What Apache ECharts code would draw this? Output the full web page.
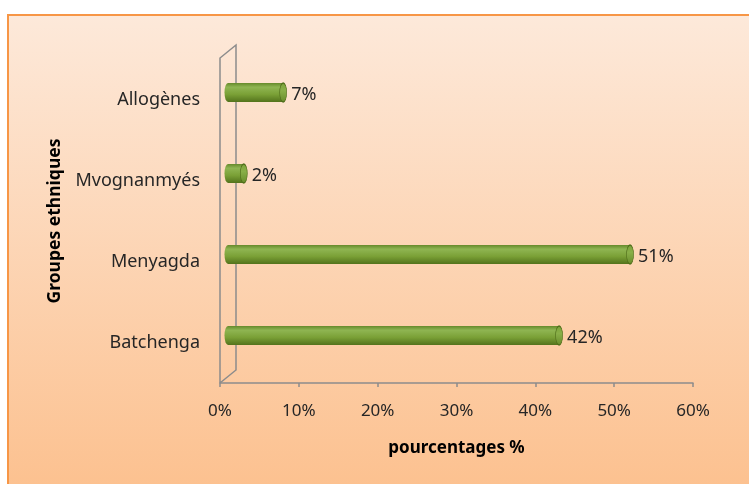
<!DOCTYPE html>
<html>
<head>
<meta charset="utf-8">
<title>Groupes ethniques</title>
<script src="https://cdn.jsdelivr.net/npm/echarts@6/dist/echarts.min.js"></script>
<style>
  html, body { margin: 0; padding: 0; background: #fff; }
  #chart { width: 749px; height: 484px; }
</style>
</head>
<body>
<div id="chart"></div>
<script>
// données (de bas en haut)
const groupes = ['Batchenga', 'Menyagda', 'Mvognanmyés', 'Allogènes']
const pourcentages = [42, 51, 2, 7]
const ticksX = [0, 10, 20, 30, 40, 50, 60]

const FONT = 'Noto Sans'

const chart = echarts.init(document.getElementById('chart'))

// dégradé du cylindre vert
const barFill = new echarts.graphic.LinearGradient(0, 0, 0, 1, [
  { offset: 0, color: '#668a2b' },
  { offset: 0.22, color: '#8fb552' },
  { offset: 0.6, color: '#7aa036' },
  { offset: 1, color: '#53731c' }
])
const capFill = new echarts.graphic.LinearGradient(0, 0, 0, 1, [
  { offset: 0, color: '#7aa238' },
  { offset: 0.4, color: '#89af48' },
  { offset: 1, color: '#668b29' }
])

const option = {
  animation: false,
  graphic: [
    {
      type: 'rect',
      z: -10,
      shape: { x: 8, y: 15, width: 800, height: 520 },
      style: {
        fill: new echarts.graphic.LinearGradient(0, 0, 0, 1, [
          { offset: 0, color: '#fde9da' },
          { offset: 1, color: '#fcbd88' }
        ]),
        stroke: '#f79646',
        lineWidth: 2
      }
    },
    {
      // paroi arrière (effet 3D)
      type: 'polyline',
      z: -5,
      shape: { points: [[220, 383], [220, 58], [236, 45], [236, 370], [220, 383]] },
      style: { stroke: '#8c8c8c', lineWidth: 1.5, fill: null }
    }
  ],
  grid: [
    { left: 220, width: 473, top: 59, height: 324 },
    { left: 228, width: 473, top: 52, height: 324 }
  ],
  xAxis: [
    {
      gridIndex: 0,
      type: 'value',
      min: ticksX[0],
      max: ticksX[ticksX.length - 1],
      interval: 10,
      splitLine: { show: false },
      axisLine: { show: true, lineStyle: { color: '#8c8c8c', width: 1.5 } },
      axisTick: { show: true, length: 4, lineStyle: { color: '#8c8c8c', width: 1.5 } },
      axisLabel: {
        formatter: '{value}%',
        margin: 20,
        fontFamily: FONT,
        fontSize: 17,
        color: '#262626'
      },
      name: 'pourcentages %',
      nameLocation: 'middle',
      nameGap: 57,
      nameTextStyle: { fontFamily: FONT, fontSize: 17, fontWeight: 'bold', color: '#000' }
    },
    {
      gridIndex: 1,
      type: 'value',
      min: ticksX[0],
      max: ticksX[ticksX.length - 1],
      show: false
    }
  ],
  yAxis: [
    {
      gridIndex: 0,
      type: 'category',
      data: groupes,
      axisLine: { show: false },
      axisTick: { show: false },
      axisLabel: {
        margin: 20,
        fontFamily: FONT,
        fontSize: 18,
        color: '#262626'
      },
      name: 'Groupes ethniques',
      nameLocation: 'middle',
      nameGap: 156,
      nameRotate: 90,
      nameTextStyle: { fontFamily: FONT, fontSize: 17.5, fontWeight: 'bold', color: '#000' }
    },
    {
      gridIndex: 1,
      type: 'category',
      data: groupes,
      show: false
    }
  ],
  series: [
    {
      // extrémité gauche arrondie
      type: 'scatter',
      xAxisIndex: 1,
      yAxisIndex: 1,
      z: 1,
      symbol: 'circle',
      symbolSize: [7, 19],
      data: groupes.map((g, i) => [0, i]),
      itemStyle: { color: barFill, opacity: 1 },
      silent: true
    },
    {
      type: 'bar',
      xAxisIndex: 1,
      yAxisIndex: 1,
      z: 2,
      barWidth: 19,
      data: pourcentages,
      itemStyle: { color: barFill },
      label: {
        show: true,
        position: 'right',
        distance: 8,
        offset: [0, 2],
        formatter: '{c}%',
        fontFamily: FONT,
        fontSize: 18,
        color: '#262626'
      }
    },
    {
      // face visible du cylindre
      type: 'scatter',
      xAxisIndex: 1,
      yAxisIndex: 1,
      z: 3,
      symbol: 'circle',
      symbolSize: [7, 19],
      data: pourcentages.map((v, i) => [v, i]),
      itemStyle: { color: capFill, borderColor: '#4f6d1a', borderWidth: 1, opacity: 1 },
      silent: true
    }
  ]
}

chart.setOption(option)
</script>
</body>
</html>
